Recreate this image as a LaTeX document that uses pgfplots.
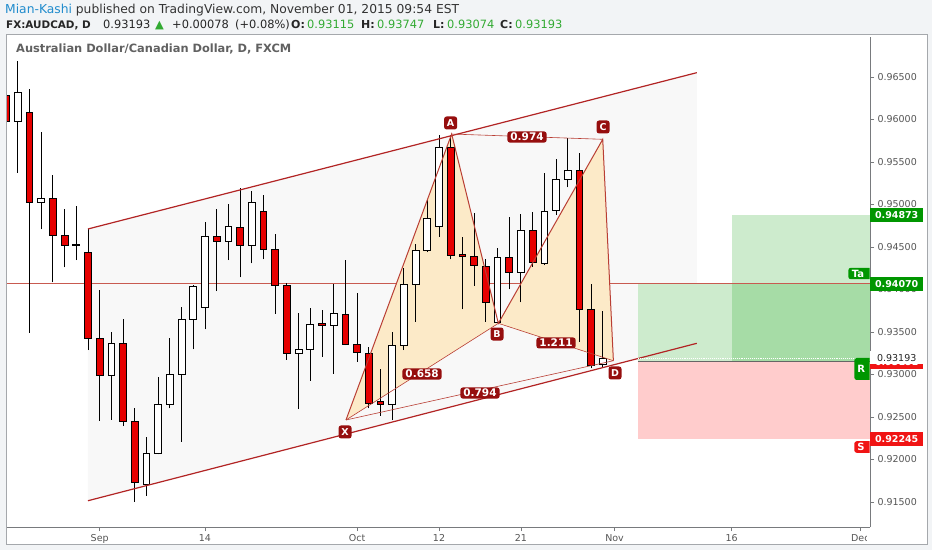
\documentclass[border=0pt]{standalone}
\usepackage{pgfplots}
\pgfplotsset{compat=1.18}
\usepackage{pgfplotstable}
\usepackage{fontspec}
\setmainfont{Liberation Sans}
\newfontfamily\djv{DejaVu Sans}

\definecolor{bggrey}{RGB}{242,244,246}
\definecolor{framegrey}{RGB}{165,168,172}
\definecolor{axisgrey}{RGB}{120,122,125}
\definecolor{ticktext}{RGB}{85,85,85}
\definecolor{tvblue}{RGB}{33,140,205}
\definecolor{tvgreen}{RGB}{50,170,50}
\definecolor{candlered}{RGB}{230,0,0}
\definecolor{chanline}{RGB}{178,36,36}
\definecolor{chanfill}{RGB}{248,248,248}
\definecolor{hline}{RGB}{200,90,80}
\definecolor{patline}{RGB}{185,62,52}
\definecolor{peach}{RGB}{252,234,200}
\definecolor{labred}{RGB}{150,14,14}
\definecolor{lightgreen}{RGB}{205,235,205}
\definecolor{darkgreen}{RGB}{166,220,166}
\definecolor{lightred}{RGB}{255,204,204}
\definecolor{boxgreen}{RGB}{0,150,0}
\definecolor{boxred}{RGB}{240,20,20}

% daily candles, i = trading day counted from 1 Sep 2015
\pgfplotstableread{
i o h l c
-8 0.96288 0.96288 0.95982 0.95982
-7 0.95982 0.96688 0.95371 0.96324
-6 0.96085 0.96355 0.93492 0.95026
-5 0.95026 0.95856 0.94708 0.95068
-4 0.95068 0.95347 0.94085 0.94633
-3 0.94633 0.94947 0.94261 0.94515
-2 0.94515 0.94986 0.94347 0.94535
-1 0.94441 0.94712 0.93288 0.93426
0 0.93426 0.93994 0.92453 0.92986
1 0.92986 0.93496 0.92465 0.93367
2 0.93367 0.93649 0.92394 0.92445
3 0.92445 0.92602 0.91504 0.91727
4 0.91708 0.92268 0.91571 0.92073
5 0.92073 0.92974 0.92060 0.92653
6 0.92653 0.93426 0.92602 0.93006
7 0.93006 0.93798 0.92209 0.93649
8 0.93649 0.94053 0.93296 0.94033
9 0.93791 0.94798 0.93532 0.94621
10 0.94621 0.94947 0.93982 0.94562
11 0.94562 0.95002 0.94347 0.94739
12 0.94732 0.95191 0.94144 0.94515
13 0.94515 0.95159 0.94308 0.95026
14 0.94924 0.95112 0.94355 0.94476
15 0.94476 0.94653 0.93712 0.94045
16 0.94045 0.94073 0.93171 0.93249
17 0.93249 0.93727 0.92594 0.93296
18 0.93296 0.93779 0.92924 0.93591
19 0.93602 0.93759 0.93209 0.93582
20 0.93582 0.94065 0.93006 0.93720
21 0.93712 0.94347 0.93347 0.93359
22 0.93359 0.93962 0.93151 0.93261
23 0.93249 0.93327 0.92602 0.92661
24 0.92680 0.93065 0.92512 0.92653
25 0.92653 0.93504 0.92465 0.93339
26 0.93339 0.94249 0.93288 0.94065
27 0.94065 0.94532 0.93621 0.94456
28 0.94456 0.95061 0.94440 0.94838
29 0.94747 0.95818 0.94621 0.95673
30 0.95673 0.95818 0.94355 0.94406
31 0.94414 0.94621 0.93767 0.94394
32 0.94394 0.94896 0.94045 0.94280
33 0.94276 0.94355 0.93621 0.93849
34 0.93609 0.94492 0.93602 0.94374
35 0.94374 0.94856 0.94002 0.94202
36 0.94202 0.94885 0.93849 0.94700
37 0.94700 0.94908 0.94268 0.94320
38 0.94308 0.95367 0.94288 0.94924
39 0.94927 0.95532 0.94876 0.95300
40 0.95300 0.95779 0.95202 0.95406
41 0.95406 0.95609 0.93386 0.93771
42 0.93771 0.94065 0.93073 0.93112
43 0.93115 0.93747 0.93074 0.93193
}\candles

\begin{document}
\begin{tikzpicture}[x=1pt,y=1pt]
\useasboundingbox (0,0) rectangle (932,550);
\fill[bggrey] (0,0) rectangle (932,550);
\fill[white] (6,6) rectangle (927,515);

% header
\node[anchor=base west, inner sep=0pt, text=black!80, font=\djv\fontsize{12.3}{14}\selectfont]
  at (5,536.7) {\textcolor{tvblue}{Mian-Kashi} published on TradingView.com, November 01, 2015 09:54 EST};
\tikzset{hd/.style={anchor=base west, inner sep=0pt, text=black!85, font=\djv\fontsize{11.4}{13}\selectfont},
  hb/.style={hd, font=\djv\bfseries\fontsize{11}{13}\selectfont},
  hg/.style={hd, text=tvgreen}}
\node[hb, font=\djv\bfseries\fontsize{10.4}{13}\selectfont] at (6,521) {FX:AUDCAD, D};
\node[hd] at (103,521) {0.93193};
\node[hg] at (155,521) {▲};
\node[hd] at (172,521) {+0.00078};
\node[hd] at (235,521) {(+0.08\%)};
\node[hb] at (291,521) {O:};
\node[hg] at (307,521) {0.93115};
\node[hb] at (361,521) {H:};
\node[hg] at (377,521) {0.93747};
\node[hb] at (433,521) {L:};
\node[hg] at (447,521) {0.93074};
\node[hb] at (500,521) {C:};
\node[hg] at (515,521) {0.93193};

\begin{axis}[
    at={(7pt,23pt)}, anchor=south west,
    scale only axis, width=863pt, height=490pt,
    xmin=-7.92, xmax=65.83,
    ymin=0.912059, ymax=0.969706,
    axis x line*=bottom, axis y line*=right,
    axis line style={draw=axisgrey, line width=1pt, -},
    tick align=outside, major tick length=4pt,
    tick style={draw=axisgrey, line width=0.8pt},
    xtick={0,9,22,29,36,44,54,65},
    xticklabels={Sep,14,Oct,12,21,Nov,16,Dec},
    ytick={0.915,0.92,0.925,0.93,0.935,0.94,0.945,0.95,0.955,0.96,0.965},
    yticklabels={0.91500,0.92000,0.92500,0.93000,0.93500,0.94000,0.94500,0.95000,0.95500,0.96000,0.96500},
    x tick label style={font=\djv\fontsize{9.5}{11}\selectfont, text=ticktext},
    y tick label style={font=\djv\fontsize{9.5}{11}\selectfont, text=ticktext},
]
% channel
\addplot[fill=chanfill, draw=none] coordinates {(-1,0.94712) (51.03,0.96551) (51.03,0.93367) (-1,0.91515)} -- cycle;
% long / short position boxes
\addplot[fill=lightgreen, draw=none] coordinates {(46,0.93151) (54,0.93151) (54,0.94070) (46,0.94070)} -- cycle;
\addplot[fill=lightgreen, draw=none] coordinates {(54,0.94070) (65.83,0.94070) (65.83,0.94873) (54,0.94873)} -- cycle;
\addplot[fill=darkgreen, draw=none] coordinates {(54,0.93151) (65.83,0.93151) (65.83,0.94070) (54,0.94070)} -- cycle;
\addplot[fill=lightred, draw=none] coordinates {(46,0.92245) (65.83,0.92245) (65.83,0.93151) (46,0.93151)} -- cycle;
\addplot[hline, line width=0.9pt] coordinates {(-7.92,0.94070) (65.83,0.94070)};
% harmonic pattern fills
\addplot[fill=peach, draw=none] coordinates {(21.05,0.92465) (30.08,0.95829) (34.07,0.93602)} -- cycle;
\addplot[fill=peach, draw=none] coordinates {(34.07,0.93602) (42.99,0.95767) (43.90,0.93162)} -- cycle;

% candles: wick from low to high, body from open to close
\pgfplotstablegetrowsof{\candles}
\pgfmathtruncatemacro\lastrow{\pgfplotsretval-1}
\pgfplotsforeachungrouped \rowidx in {0,...,\lastrow}{%
  \pgfplotstablegetelem{\rowidx}{i}\of\candles \let\cI\pgfplotsretval
  \pgfplotstablegetelem{\rowidx}{o}\of\candles \let\cO\pgfplotsretval
  \pgfplotstablegetelem{\rowidx}{h}\of\candles \let\cH\pgfplotsretval
  \pgfplotstablegetelem{\rowidx}{l}\of\candles \let\cL\pgfplotsretval
  \pgfplotstablegetelem{\rowidx}{c}\of\candles \let\cC\pgfplotsretval
  \pgfmathsetmacro\xa{\cI-0.29}%
  \pgfmathsetmacro\xb{\cI+0.29}%
  \pgfmathtruncatemacro\isdown{\cC<\cO}%
  \ifnum\isdown=1 \def\bcol{candlered}\else\def\bcol{white}\fi
  \edef\next{%
    \noexpand\addplot[black, line width=0.9pt] coordinates {(\cI,\cL) (\cI,\cH)};
    \noexpand\addplot[draw=black, fill=\bcol, line width=0.9pt]
      coordinates {(\xa,\cO) (\xb,\cO) (\xb,\cC) (\xa,\cC)} -- cycle;}%
  \next
}

% channel lines
\addplot[chanline, line width=1.2pt] coordinates {(-1,0.94712) (51.03,0.96551)};
\addplot[chanline, line width=1.2pt] coordinates {(-1,0.91515) (51.03,0.93367)};
% pattern lines
\addplot[patline, line width=1pt] coordinates {(21.05,0.92465) (30.08,0.95829) (34.07,0.93602) (42.99,0.95767) (43.90,0.93162)};
\addplot[patline, line width=0.6pt] coordinates {(21.05,0.92465) (34.07,0.93602)};
\addplot[patline, line width=0.6pt] coordinates {(30.08,0.95829) (42.99,0.95767)};
\addplot[patline, line width=0.6pt] coordinates {(34.07,0.93602) (43.90,0.93162)};
\addplot[patline, line width=0.6pt] coordinates {(21.05,0.92465) (43.90,0.93162)};
% entry and last price
\addplot[black!60, line width=0.9pt] coordinates {(46,0.93151) (65.83,0.93151)};
\addplot[white, densely dotted, line width=0.9pt] coordinates {(46,0.93193) (65.83,0.93193)};

\tikzset{ptlab/.style={fill=labred, text=white, font=\djv\bfseries\fontsize{9.5}{10}\selectfont,
    rounded corners=2.5pt, inner sep=0pt, minimum width=13pt, minimum height=13pt},
  ratiolab/.style={fill=labred, text=white, font=\djv\bfseries\fontsize{10.5}{11}\selectfont,
    rounded corners=2.5pt, inner xsep=3pt, inner ysep=1.6pt}}
\node[ptlab] at (axis cs:20.97,0.92324) {X};
\node[ptlab] at (axis cs:29.99,0.95959) {A};
\node[ptlab] at (axis cs:33.96,0.93476) {B};
\node[ptlab] at (axis cs:43.02,0.95912) {C};
\node[ptlab] at (axis cs:44.04,0.93018) {D};
\node[ratiolab] at (axis cs:36.52,0.95794) {0.974};
\node[ratiolab] at (axis cs:27.55,0.93006) {0.658};
\node[ratiolab] at (axis cs:39.00,0.93371) {1.211};
\node[ratiolab] at (axis cs:32.50,0.92782) {0.794};

\coordinate (pT) at (axis cs:65.83,0.94873);
\coordinate (pE) at (axis cs:65.83,0.94070);
\coordinate (pC) at (axis cs:65.83,0.93193);
\coordinate (pN) at (axis cs:65.83,0.93151);
\coordinate (pS) at (axis cs:65.83,0.92245);
\coordinate (lTa) at (axis cs:63.96,0.94188);
\coordinate (lR) at (axis cs:64.47,0.93065);
\coordinate (lS) at (axis cs:64.47,0.92147);
\end{axis}

% panel frame
\draw[framegrey, line width=1pt] (6,6) rectangle (927,515);
\node[anchor=base west, inner sep=0pt, text=black!62, font=\djv\bfseries\fontsize{11.4}{13}\selectfont]
  at (16,497.5) {Australian Dollar/Canadian Dollar, D, FXCM};
% clipped end of the Dec label
\fill[white] (867,8) rectangle (926,21);

% labels on the price scale
\tikzset{pbox/.style={anchor=west, inner sep=0pt, minimum width=53pt, minimum height=14pt,
    font=\djv\bfseries\fontsize{9.5}{10}\selectfont, text=white}}
\node[pbox, fill=boxgreen] at (pT) {0.94873};
\node[pbox, fill=boxgreen] at (pE) {0.94070};
\node[pbox, fill=boxred] at (pN) {0.93151};
\node[pbox, fill=white, text=black!85, font=\djv\fontsize{9.5}{10}\selectfont, minimum height=13pt] at ([yshift=0.5pt]pC) {0.93193};
\node[pbox, fill=boxred] at (pS) {0.92245};
\begin{scope}
\clip (0,0) rectangle (869.5,550);
\tikzset{side/.style={anchor=west, rounded corners=2.5pt, inner xsep=0pt, inner ysep=2pt,
    text width=30pt, align=left, font=\djv\bfseries\fontsize{10}{11}\selectfont, text=white}}
\node[side, fill=boxgreen] at (lTa) {\hspace*{3.5pt}Ta};
\node[side, fill=boxgreen, minimum height=22pt] at (lR) {\hspace*{3pt}R};
\node[side, fill=boxred] at (lS) {\hspace*{3pt}S};
\end{scope}
\end{tikzpicture}
\end{document}
